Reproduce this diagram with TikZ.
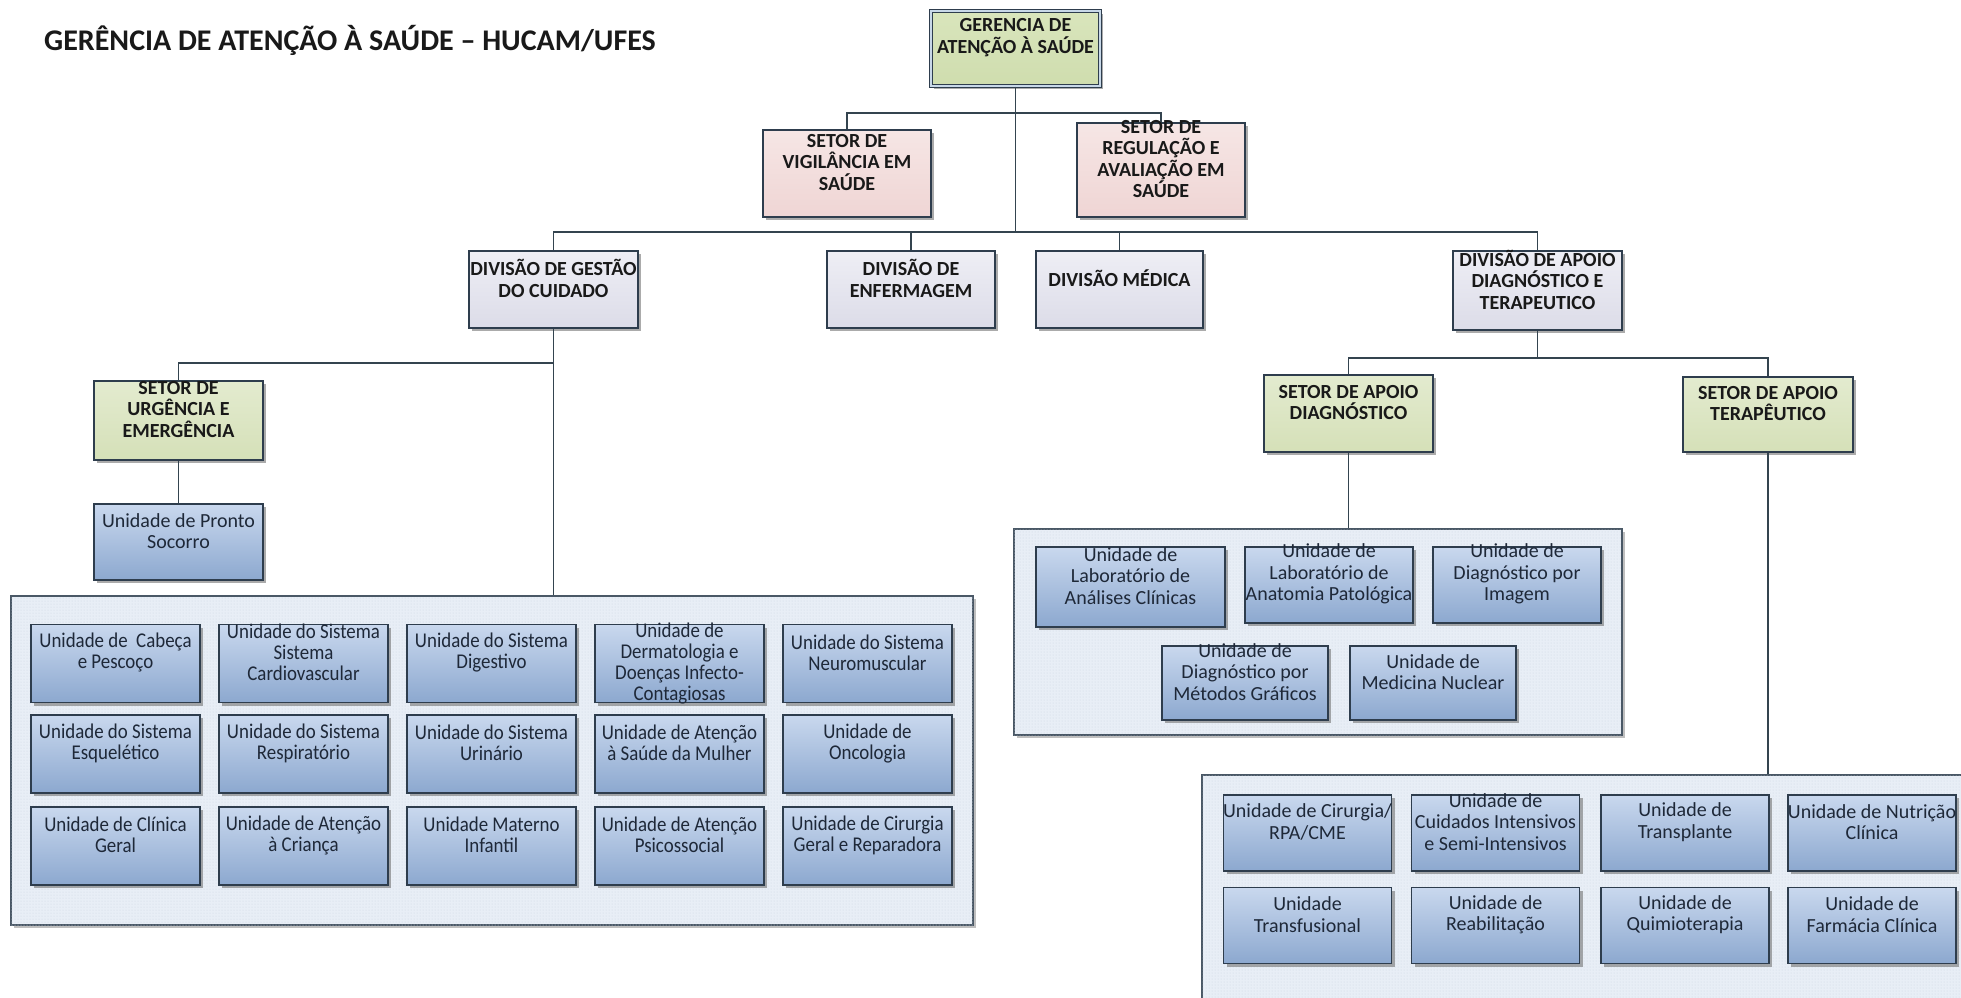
\documentclass[tikz,border=0pt]{standalone}
\usepackage{fontspec}
\setmainfont{Carlito}
\newfontfamily\condfont[FakeStretch=0.9]{Carlito}
\usetikzlibrary{shadows,patterns}
\definecolor{bordc}{HTML}{2E3D4D}
\definecolor{linec}{HTML}{34444F}
\definecolor{contfill}{HTML}{E8EEF6}
\definecolor{contdots}{HTML}{CED7E3}
\definecolor{contbord}{HTML}{4A5866}
\definecolor{utextc}{HTML}{1E2838}
\definecolor{topA}{HTML}{D9E5BC}
\definecolor{topB}{HTML}{CFDDAE}
\definecolor{dblc}{HTML}{C8D8E8}
\definecolor{grnA}{HTML}{E3EBCF}
\definecolor{grnB}{HTML}{D5E0B8}
\definecolor{pnkA}{HTML}{F6E6E5}
\definecolor{pnkB}{HTML}{EFD5D4}
\definecolor{divA}{HTML}{EEEEF5}
\definecolor{divB}{HTML}{DCDCE8}
\definecolor{uniA}{HTML}{C9D8EE}
\definecolor{uniB}{HTML}{8CA8CF}
\tikzset{
  shbox/.style={rectangle, draw=bordc, line width=1.5pt, inner sep=0pt,
    drop shadow={shadow xshift=3pt, shadow yshift=-3pt, fill=black!55, opacity=0.6}},
  topbox/.style={shbox, top color=topA, bottom color=topB,
    double=dblc, double distance=2pt, line width=1.2pt},
  gbox/.style={shbox, top color=grnA, bottom color=grnB},
  pbox/.style={shbox, top color=pnkA, bottom color=pnkB},
  dbox/.style={shbox, top color=divA, bottom color=divB},
  ubox/.style={shbox, top color=uniA, bottom color=uniB},
  cont/.style={rectangle, draw=contbord, line width=1.3pt, fill=contfill, inner sep=0pt,
    postaction={pattern=dots, pattern color=contdots},
    drop shadow={shadow xshift=3pt, shadow yshift=-3pt, fill=black!50, opacity=0.5}},
  htext/.style={align=center, inner sep=0pt, text=black!90,
    font=\bfseries\fontsize{20}{21.5}\selectfont},
  utext/.style={align=center, inner sep=0pt, text=utextc,
    font=\fontsize{20}{21.5}\selectfont},
  ltext/.style={align=center, inner sep=0pt, text=utextc,
    font=\condfont\fontsize{21}{21}\selectfont},
  conn/.style={draw=linec, line width=1.5pt},
}
% name, box style, text style, x, y, w, h, text
\newcommand{\bx}[8]{%
  \node[#2, minimum width=#6pt, minimum height=#7pt] (#1) at (#4,#5) {};
  \node[#3] (#1t) at ([yshift=11pt]#1.center) {#8};}
\begin{document}
\begin{tikzpicture}[x=1pt, y=-1pt]
\clip (0,0) rectangle (1961,997);
\fill[white] (0,0) rectangle (1961,997);

\node[anchor=west, inner sep=0pt, font=\bfseries\fontsize{30}{32}\selectfont, text=black!90] (title) at (44,40) {GERÊNCIA DE ATENÇÃO À SAÚDE – HUCAM/UFES};

% containers
\node[cont, minimum width=962pt, minimum height=329pt] (lc) at (492,760.5) {};
\node[cont, minimum width=608pt, minimum height=206pt] (dc) at (1318,632) {};
\node[cont, minimum width=798pt, minimum height=245pt] (tc) at (1601,897.5) {};

% junction coordinates
\coordinate (bus1) at (1015.5,113);
\coordinate (bus2) at (1015.5,232);
\coordinate (j1) at (553.5,363);
\coordinate (j2) at (1537.5,358);

% top levels
\bx{g}{topbox}{htext}{1015.5}{48.5}{169}{75}{GERENCIA DE\\ATENÇÃO À SAÚDE}
\bx{vig}{pbox}{htext}{847}{173.5}{168}{87}{SETOR DE\\VIGILÂNCIA EM\\SAÚDE}
\bx{reg}{pbox}{htext}{1161}{170}{168}{94}{SETOR DE\\REGULAÇÃO E\\AVALIAÇÃO EM\\SAÚDE}

\bx{gest}{dbox}{htext}{553.5}{289.5}{169}{77}{DIVISÃO DE GESTÃO\\DO CUIDADO}
\bx{enf}{dbox}{htext}{911}{289.5}{168}{77}{DIVISÃO DE\\ENFERMAGEM}
\bx{med}{dbox}{htext}{1119.5}{289.5}{167}{77}{DIVISÃO MÉDICA}
\bx{apoio}{dbox}{htext}{1537.5}{290.5}{169}{79}{DIVISÃO DE APOIO\\DIAGNÓSTICO E\\TERAPEUTICO}

\bx{urg}{gbox}{htext}{178.5}{420.5}{169}{79}{SETOR DE\\URGÊNCIA E\\EMERGÊNCIA}
\bx{pronto}{ubox}{utext}{178.5}{542}{169}{76}{Unidade de Pronto\\Socorro}
\bx{sdiag}{gbox}{htext}{1348.5}{413.5}{169}{77}{SETOR DE APOIO\\DIAGNÓSTICO}
\bx{ster}{gbox}{htext}{1768}{414.5}{170}{75}{SETOR DE APOIO\\TERAPÊUTICO}

% left units
\bx{l11}{ubox}{ltext}{115.5}{663.5}{169}{78}{Unidade de\ \ Cabeça\\e Pescoço}
\bx{l12}{ubox}{ltext}{303.5}{663.5}{169}{78}{Unidade do Sistema\\Sistema\\Cardiovascular}
\bx{l13}{ubox}{ltext}{491.5}{663.5}{169}{78}{Unidade do Sistema\\Digestivo}
\bx{l14}{ubox}{ltext,yshift=-11pt}{679.5}{663.5}{169}{78}{Unidade de\\Dermatologia e\\Doenças Infecto-\\Contagiosas}
\bx{l15}{ubox}{ltext}{867.5}{663.5}{169}{78}{Unidade do Sistema\\Neuromuscular}
\bx{l21}{ubox}{ltext}{115.5}{754}{169}{78}{Unidade do Sistema\\Esquelético}
\bx{l22}{ubox}{ltext}{303.5}{754}{169}{78}{Unidade do Sistema\\Respiratório}
\bx{l23}{ubox}{ltext}{491.5}{754}{169}{78}{Unidade do Sistema\\Urinário}
\bx{l24}{ubox}{ltext}{679.5}{754}{169}{78}{Unidade de Atenção\\à Saúde da Mulher}
\bx{l25}{ubox}{ltext}{867.5}{754}{169}{78}{Unidade de\\Oncologia}
\bx{l31}{ubox}{ltext}{115.5}{846}{169}{78}{Unidade de Clínica\\Geral}
\bx{l32}{ubox}{ltext}{303.5}{846}{169}{78}{Unidade de Atenção\\à Criança}
\bx{l33}{ubox}{ltext}{491.5}{846}{169}{78}{Unidade Materno\\Infantil}
\bx{l34}{ubox}{ltext}{679.5}{846}{169}{78}{Unidade de Atenção\\Psicossocial}
\bx{l35}{ubox}{ltext}{867.5}{846}{169}{78}{Unidade de Cirurgia\\Geral e Reparadora}

% diagnostic units
\bx{d1}{ubox}{utext}{1130.5}{587}{189}{80}{Unidade de\\Laboratório de\\Análises Clínicas}
\bx{d2}{ubox}{utext}{1329}{585}{168}{76}{Unidade de\\Laboratório de\\Anatomia Patológica}
\bx{d3}{ubox}{utext}{1517}{585}{168}{76}{Unidade de\\Diagnóstico por\\Imagem}
\bx{d4}{ubox}{utext}{1245}{683}{166}{74}{Unidade de\\Diagnóstico por\\Métodos Gráficos}
\bx{d5}{ubox}{utext}{1433}{683}{166}{74}{Unidade de\\Medicina Nuclear}

% therapeutic units
\bx{t1}{ubox}{utext}{1307.5}{833}{168}{76}{Unidade de Cirurgia/\\RPA/CME}
\bx{t2}{ubox}{utext}{1495.5}{833}{168}{76}{Unidade de\\Cuidados Intensivos\\e Semi-Intensivos}
\bx{t3}{ubox}{utext}{1685}{833}{168}{76}{Unidade de\\Transplante}
\bx{t4}{ubox}{utext}{1872}{833}{168}{76}{Unidade de Nutrição\\Clínica}
\bx{t5}{ubox}{utext}{1307.5}{925.5}{168}{76}{Unidade\\Transfusional}
\bx{t6}{ubox}{utext}{1495.5}{925.5}{168}{76}{Unidade de\\Reabilitação}
\bx{t7}{ubox}{utext}{1685}{925.5}{168}{76}{Unidade de\\Quimioterapia}
\bx{t8}{ubox}{utext}{1872}{925.5}{168}{76}{Unidade de\\Farmácia Clínica}

% connectors
\draw[conn] (g.south) -- (bus2);
\draw[conn] (vig.north) |- (bus1) -| (reg.north);
\draw[conn] (gest.north) |- (bus2) -| (apoio.north);
\draw[conn] (enf.north) -- (enf.north |- bus2);
\draw[conn] (med.north) -- (med.north |- bus2);
\draw[conn] (gest.south) -- (gest.south |- lc.north);
\draw[conn] (urg.north) |- (j1);
\draw[conn] (urg.south) -- (pronto.north);
\draw[conn] (apoio.south) -- (j2);
\draw[conn] (sdiag.north) |- (j2) -| (ster.north);
\draw[conn] (sdiag.south) -- (sdiag.south |- dc.north);
\draw[conn] (ster.south) -- (ster.south |- tc.north);
\end{tikzpicture}
\end{document}
